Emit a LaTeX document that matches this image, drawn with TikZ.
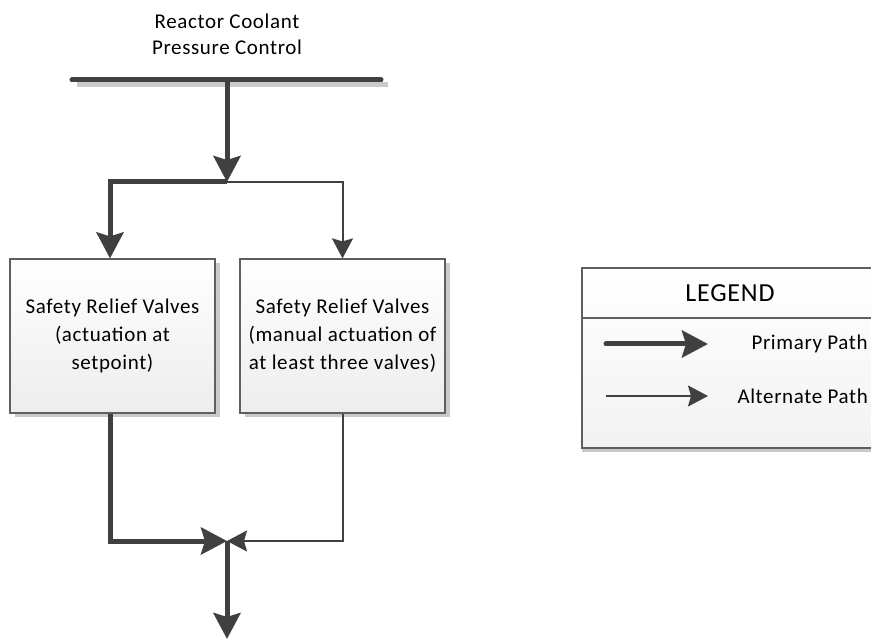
\documentclass[tikz,border=0pt]{standalone}
\usepackage{fontspec}
\setmainfont[LetterSpace=3]{Carlito}
\usetikzlibrary{arrows.meta,shadows}

\definecolor{pathgray}{HTML}{404040}
\definecolor{framegray}{HTML}{5F5F5F}
\definecolor{shadegray}{HTML}{CACACA}

\tikzset{
  primary/.style={draw=pathgray, line width=5pt, -{Stealth[length=26pt,width=27pt,inset=4pt]}},
  alternate/.style={draw=pathgray, line width=2pt, -{Stealth[length=20pt,width=21pt,inset=3pt]}},
  valvebox/.style={draw=framegray, line width=1.2pt, top color=white, bottom color=black!7,
    minimum width=205pt, minimum height=154pt, align=center, inner sep=0pt,
    drop shadow={shadow xshift=5pt, shadow yshift=-4pt, fill=shadegray, opacity=1}},
  legendbox/.style={draw=framegray, line width=1.2pt, top color=white, bottom color=black!5,
    minimum width=296pt, minimum height=180pt, inner sep=0pt,
    drop shadow={shadow xshift=0pt, shadow yshift=-4pt, fill=shadegray, opacity=1}}
}

\begin{document}
\begin{tikzpicture}[x=1pt, y=-1pt, font=\fontsize{21}{28}\selectfont, text=black]
\useasboundingbox (0,0) rectangle (871,639);

% source header and bus bar
\node [align=center, font=\fontsize{21}{26}\selectfont] (source) at (227,34) {Reactor Coolant\\Pressure Control};
\draw [shadegray, line width=5pt] (77,85) -- (388,85);
\coordinate (barL) at (72,80);
\coordinate (barR) at (381,80);
\coordinate (barM) at (227,80);
\draw [pathgray, line width=5pt, line cap=round] (barL) -- (barR);

% the two valve groups
\node [valvebox] (srvA) at (112.5,336) {Safety Relief Valves\\(actuation at\\setpoint)};
\node [valvebox] (srvB) at (342.5,336) {Safety Relief Valves\\(manual actuation of\\at least three valves)};

% split above the boxes
\coordinate (split) at (227,182);
\draw [primary] (barM) -- (split);
\draw [primary] (split) -| ([xshift=-2.5pt]srvA.north);
\draw [alternate] (split) -| (srvB.north);

% merge below the boxes
\coordinate (merge) at (227,541);
\coordinate (outlet) at (227,639);
\draw [primary] ([xshift=-2.5pt]srvA.south) |- (merge);
\draw [alternate] (srvB.south) |- (merge);
\draw [primary] (merge) -- (outlet);

% legend
\node [legendbox] (legend) at (730,358) {};
\coordinate (divL) at (582,318);
\coordinate (divR) at (878,318);
\draw [framegray, line width=1.2pt] (divL) -- (divR);
\node [font=\fontsize{26}{30}\selectfont] (legendtitle) at (730,293) {LEGEND};

\coordinate (pA) at (606,344);
\coordinate (pB) at (708,344);
\draw [primary, line cap=round] (pA) -- (pB);
\node [anchor=west] (ptext) at (748,344) {Primary Path};

\coordinate (aA) at (606,396);
\coordinate (aB) at (708,396);
\draw [alternate] (aA) -- (aB);
\node [anchor=west] (atext) at (734,396) {Alternate Path};
\end{tikzpicture}
\end{document}
